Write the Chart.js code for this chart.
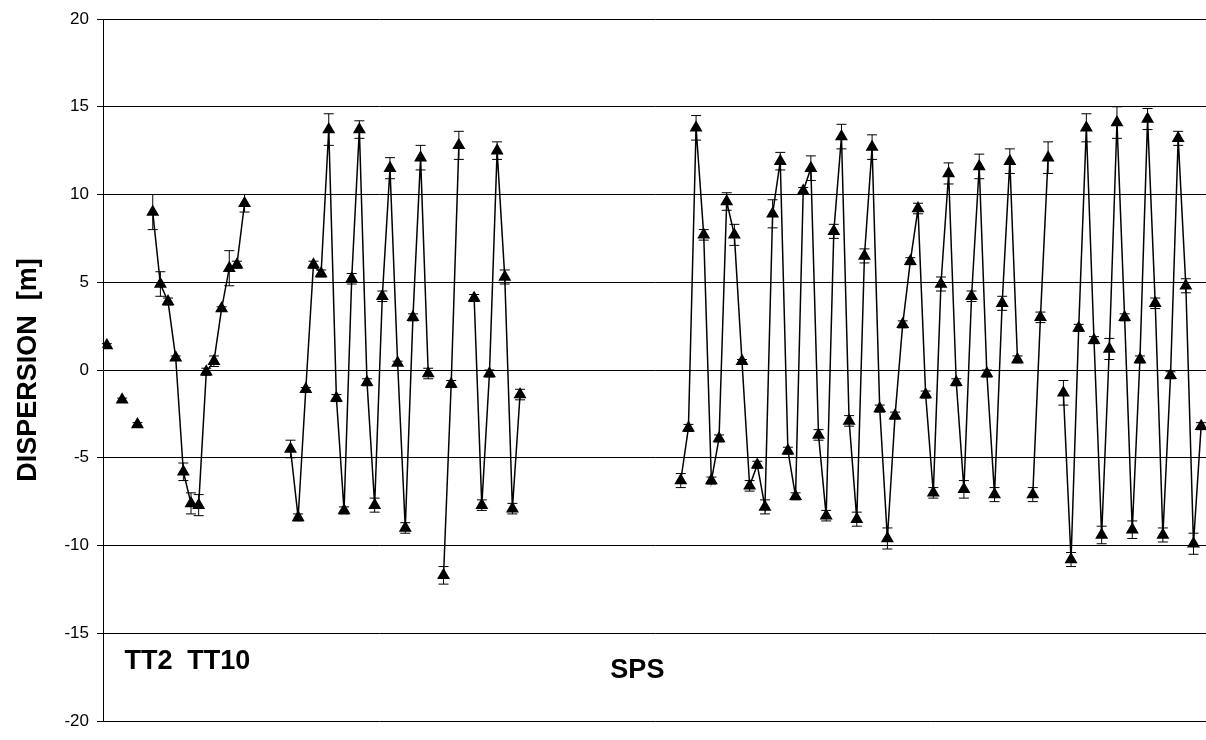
<!DOCTYPE html>
<html>
<head>
<meta charset="utf-8">
<script src="https://cdn.jsdelivr.net/npm/chart.js@4"></script>
<style>
  body { margin: 0; background: #fff; overflow: hidden; }
</style>
</head>
<body>
<canvas id="grafico" width="1214" height="740"></canvas>
<script>
var _ = null;
// dispersion per measurement slot (null = no measurement / break in line)
var dispersion = [
  1.4, _, -1.7, _, -3.1, _,
  9.0, 4.9, 3.9, 0.7, -5.8, -7.6, -7.7, -0.1, 0.5, 3.5, 5.8, 6.0, 9.5,
  _, _, _, _, _,
  -4.5, -8.4, -1.1, 6.0, 5.5, 13.7, -1.6, -8.0, 5.2, 13.7, -0.7, -7.7, 4.2, 11.5, 0.4, -9.0, 3.0, 12.1, -0.2,
  _, -11.7, -0.8, 12.8, _,
  4.1, -7.7, -0.2, 12.5, 5.3, -7.9, -1.4,
  _, _, _, _, _, _, _, _, _, _, _, _, _, _, _, _, _, _, _, _,
  -6.3, -3.3, 13.8, 7.7, -6.3, -3.9, 9.6, 7.7, 0.5, -6.6, -5.4, -7.8, 8.9, 11.9, -4.6,
  -7.2, 10.2, 11.5, -3.7, -8.3, 7.9, 13.3, -2.9, -8.5, 6.5, 12.7, -2.2, -9.6, -2.6, 2.6,
  6.2, 9.2, -1.4, -7.0, 4.9, 11.2, -0.7, -6.8, 4.2, 11.6, -0.2, -7.1, 3.8, 11.9, 0.6,
  _, -7.1, 3.0, 12.1, _,
  -1.3, -10.8, 2.4, 13.8, 1.7, -9.4, 1.2, 14.1, 3.0, -9.1, 0.6, 14.3, 3.8, -9.4, -0.3, 13.2, 4.8, -9.9, -3.2
];
// half length of the error bar per slot
var errores = [
  0.1, _, 0.1, _, 0.1, _,
  1.0, 0.7, 0.2, 0.1, 0.5, 0.6, 0.6, 0.2, 0.3, 0.1, 1.0, 0.2, 0.5,
  _, _, _, _, _,
  0.5, 0.2, 0.1, 0.2, 0.2, 0.9, 0.2, 0.2, 0.3, 0.5, 0.2, 0.4, 0.3, 0.6, 0.1, 0.3, 0.2, 0.7, 0.3,
  _, 0.5, 0.2, 0.8, _,
  0.2, 0.3, 0.2, 0.5, 0.4, 0.3, 0.3,
  _, _, _, _, _, _, _, _, _, _, _, _, _, _, _, _, _, _, _, _,
  0.4, 0.2, 0.7, 0.3, 0.2, 0.2, 0.5, 0.6, 0.1, 0.3, 0.2, 0.4, 0.8, 0.5, 0.2,
  0.2, 0.2, 0.7, 0.3, 0.3, 0.4, 0.7, 0.3, 0.4, 0.4, 0.7, 0.2, 0.6, 0.2, 0.2,
  0.2, 0.3, 0.2, 0.3, 0.4, 0.6, 0.2, 0.5, 0.3, 0.7, 0.2, 0.4, 0.4, 0.7, 0.2,
  _, 0.4, 0.3, 0.9, _,
  0.7, 0.4, 0.2, 0.8, 0.2, 0.5, 0.6, 0.9, 0.2, 0.5, 0.2, 0.6, 0.3, 0.4, 0.2, 0.4, 0.4, 0.6, 0.2
];
var marcas = [-20, -15, -10, -5, 0, 5, 10, 15, 20];
var grupos = [
  { texto: "TT2", x: 2.3, y: -16.6 },
  { texto: "TT10", x: 10.5, y: -16.6 },
  { texto: "SPS", x: 65.8, y: -17.1 }
];

var puntos = dispersion.map(function (v, i) { return { x: i, y: v }; });

var barrasError = {
  id: "barrasError",
  afterDatasetsDraw: function (chart) {
    var ctx = chart.ctx, xs = chart.scales.x, ys = chart.scales.y;
    ctx.save();
    ctx.strokeStyle = "#000";
    ctx.lineWidth = 1;
    for (var i = 0; i < dispersion.length; i++) {
      if (dispersion[i] === null) continue;
      var px = xs.getPixelForValue(i);
      var y1 = ys.getPixelForValue(dispersion[i] + errores[i]);
      var y2 = ys.getPixelForValue(dispersion[i] - errores[i]);
      ctx.beginPath();
      ctx.moveTo(px, y1); ctx.lineTo(px, y2);
      ctx.moveTo(px - 5, y1); ctx.lineTo(px + 5, y1);
      ctx.moveTo(px - 5, y2); ctx.lineTo(px + 5, y2);
      ctx.stroke();
    }
    ctx.font = "bold 27px Arial, 'Liberation Sans'";
    ctx.fillStyle = "#000";
    ctx.textBaseline = "middle";
    grupos.forEach(function (g) {
      ctx.fillText(g.texto, xs.getPixelForValue(g.x), ys.getPixelForValue(g.y));
    });
    ctx.restore();
  }
};

new Chart(document.getElementById("grafico"), {
  type: "line",
  data: {
    datasets: [{
      data: puntos,
      borderColor: "#000",
      backgroundColor: "#000",
      borderWidth: 1.5,
      pointStyle: "triangle",
      pointRadius: 6,
      pointHoverRadius: 6,
      spanGaps: false,
      tension: 0
    }]
  },
  options: {
    responsive: false,
    animation: false,
    devicePixelRatio: 1,
    layout: { padding: { top: 19, right: 0, bottom: 11, left: 0 } },
    plugins: { legend: { display: false }, tooltip: { enabled: false } },
    scales: {
      x: {
        type: "linear",
        min: -0.5,
        max: 143.7,
        ticks: { display: false },
        grid: { display: false },
        border: { display: false }
      },
      y: {
        min: -20,
        max: 20,
        afterFit: function (s) { s.width = 103; },
        afterBuildTicks: function (s) { s.ticks = marcas.map(function (v) { return { value: v }; }); },
        ticks: { color: "#000", font: { size: 17, family: "Arial, 'Liberation Sans'" }, padding: 8 },
        grid: { color: "#000", lineWidth: 1, tickLength: 6 },
        border: { color: "#000", width: 1 },
        title: {
          display: true,
          text: "DISPERSION  [m]",
          color: "#000",
          padding: { top: 12, bottom: 4 },
          font: { size: 27, weight: "bold", family: "Arial, 'Liberation Sans'" }
        }
      }
    }
  },
  plugins: [barrasError]
});
</script>
</body>
</html>
